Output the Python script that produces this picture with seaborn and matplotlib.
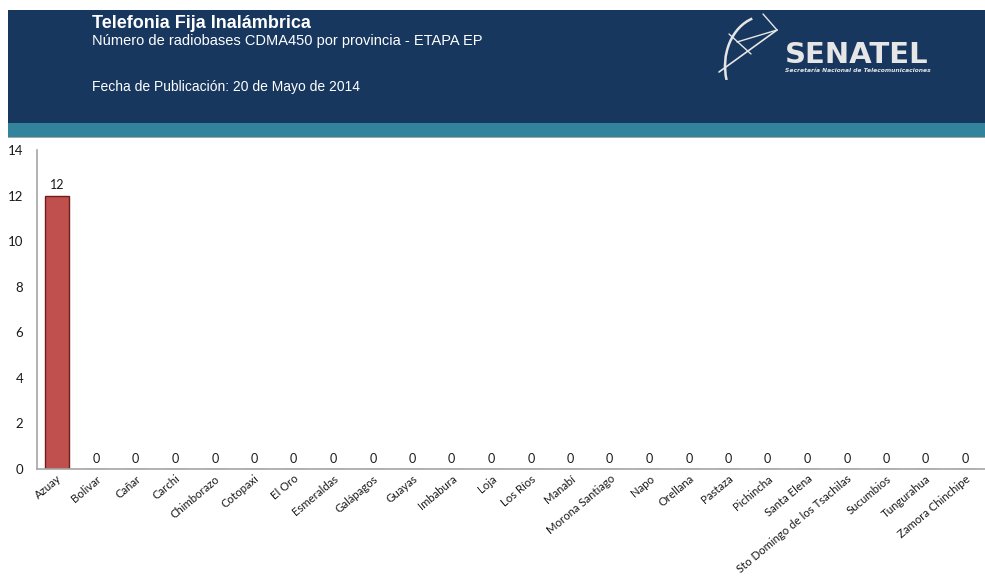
import matplotlib
matplotlib.use("Agg")
import matplotlib.pyplot as plt
from matplotlib.patches import Rectangle, Arc
import seaborn as sns
import pandas as pd

provincias = ["Azuay", "Bolivar", "Cañar", "Carchi", "Chimborazo", "Cotopaxi", "El Oro",
              "Esmeraldas", "Galápagos", "Guayas", "Imbabura", "Loja", "Los Ríos", "Manabí",
              "Morona Santiago", "Napo", "Orellana", "Pastaza", "Pichincha", "Santa Elena",
              "Sto Domingo de los Tsachilas", "Sucumbios", "Tungurahua", "Zamora Chinchipe"]
radiobases = [12, 0, 0, 0, 0, 0, 0, 0, 0, 0, 0, 0, 0, 0, 0, 0, 0, 0, 0, 0, 0, 0, 0, 0]
y_ticks = [0, 2, 4, 6, 8, 10, 12, 14]

df = pd.DataFrame({"provincia": provincias, "radiobases": radiobases})

sns.set_theme(style="white")
plt.rcParams["font.family"] = ["Lato", "DejaVu Sans"]

W, H = 985, 578
fig = plt.figure(figsize=(W / 100, H / 100), dpi=100)

# header band
fig.patches.append(Rectangle((8 / W, 1 - 123 / H), 1 - 8 / W, 113 / H,
                             transform=fig.transFigure, facecolor="#17375E",
                             edgecolor="none", zorder=-2))
fig.patches.append(Rectangle((8 / W, 1 - 137 / H), 1 - 8 / W, 14 / H,
                             transform=fig.transFigure, facecolor="#31849B",
                             edgecolor="none", zorder=-2))
fig.patches.append(Rectangle((8 / W, 1 - 138 / H), 1 - 8 / W, 1.2 / H,
                             transform=fig.transFigure, facecolor="#A6A6A6",
                             edgecolor="none", zorder=-2))

fig.text(92 / W, 1 - 23 / H, "Telefonia Fija Inalámbrica", color="white",
         fontsize=13, fontweight="bold", family="Liberation Sans", va="center")
fig.text(92 / W, 1 - 41 / H, "Número de radiobases CDMA450 por provincia - ETAPA EP",
         color="white", fontsize=10.5, family="Liberation Sans", va="center")
fig.text(92 / W, 1 - 87 / H, "Fecha de Publicación: 20 de Mayo de 2014",
         color="white", fontsize=10, family="Liberation Sans", va="center")

# SENATEL logo
fig.text(785 / W, 1 - 55 / H, "SENATEL", color="#E6E6E6", fontsize=21,
         fontweight="bold", family="DejaVu Sans", va="center", ha="left")
fig.text(785 / W, 1 - 71 / H, "Secretaría Nacional de Telecomunicaciones",
         color="#E6E6E6", fontsize=4.3, style="italic", fontweight="bold",
         family="DejaVu Sans", va="center", ha="left")
lax = fig.add_axes([705 / W, 1 - 80 / H, 90 / W, 75 / H])
lax.set_xlim(0, 90)
lax.set_ylim(0, 75)
lax.axis("off")
lax.add_patch(Arc((60, 14), 80, 100, theta1=105, theta2=200, color="#E6E6E6", lw=1.8))
lax.plot([14, 72], [8, 50], color="#E6E6E6", lw=1.2)
lax.plot([32, 72], [38, 50], color="#E6E6E6", lw=1.0)
lax.plot([72, 58], [50, 66], color="#E6E6E6", lw=1.0)
lax.plot([24, 46], [46, 26], color="#E6E6E6", lw=1.0)

ax = fig.add_axes([37 / W, 1 - 469 / H, (W - 37) / W, (469 - 150) / H])
sns.barplot(data=df, x="provincia", y="radiobases", ax=ax, color="#C0504D",
            saturation=1, width=0.6, edgecolor="#6E1F1D", linewidth=1.0)

for i, v in enumerate(radiobases):
    ax.annotate(f"{v}", (i, v), xytext=(0, 3), textcoords="offset points",
                ha="center", va="bottom", fontsize=9, color="#1A1A1A")

ax.set_ylim(0, 14)
ax.set_xlim(-0.5, len(provincias) - 0.5)
ax.set_yticks(y_ticks)
ax.set_yticklabels([str(t) for t in y_ticks], fontsize=9.5, color="#1A1A1A")
ax.set_xticks(range(len(provincias)))
ax.set_xticklabels(provincias, rotation=40, ha="right", rotation_mode="anchor",
                   fontsize=8.2, color="#1A1A1A")
ax.tick_params(axis="y", length=0, pad=10)
ax.tick_params(axis="x", length=0, pad=3)
ax.set_xlabel("")
ax.set_ylabel("")
for s in ["top", "right"]:
    ax.spines[s].set_visible(False)
for s in ["left", "bottom"]:
    ax.spines[s].set_color("#A6A6A6")
    ax.spines[s].set_linewidth(1.2)

fig.savefig("out.png", dpi=100)
